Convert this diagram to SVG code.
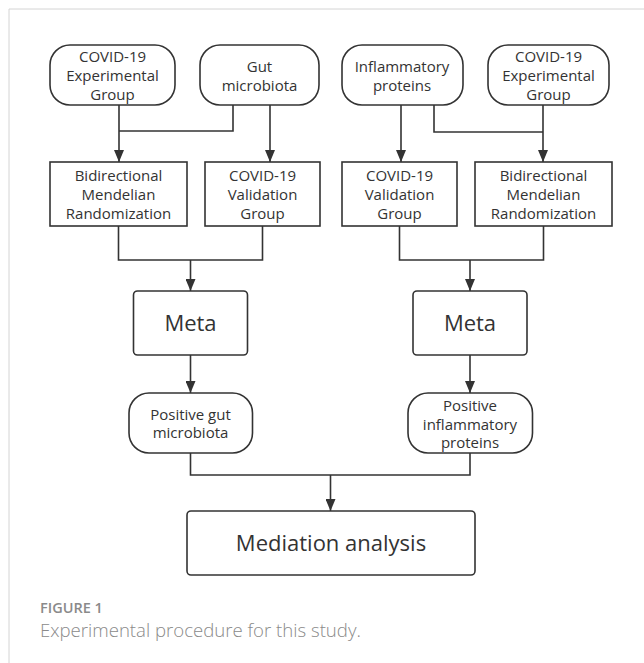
<svg xmlns="http://www.w3.org/2000/svg" width="644" height="663" viewBox="0 0 644 663">
<style>
.nd{fill:#fff;stroke:#333;stroke-width:1.6}
.t{font-family:"Open Sans","Noto Sans",sans-serif;font-size:15px;fill:#333;text-anchor:middle}
.tb{font-family:"Open Sans","Noto Sans",sans-serif;font-size:22px;fill:#333;text-anchor:middle}
.ln{fill:none;stroke:#333;stroke-width:1.6}
.ar{fill:none;stroke:#333;stroke-width:1.6;marker-end:url(#ah)}
</style>
<defs>
<marker id="ah" markerUnits="userSpaceOnUse" markerWidth="12" markerHeight="10" refX="12" refY="5" orient="auto">
<path d="M0,0 L12,5 L0,10 z" fill="#333"/>
</marker>
</defs>
<rect width="644" height="663" fill="#fff"/>
<path d="M9,663 V9 H644" fill="none" stroke="#d4d4d4" stroke-width="1"/>

<g id="connectors">
<path class="ar" d="M119,105 V162"/>
<path class="ln" d="M233,105 V131 H119"/>
<path class="ar" d="M270,105 V162"/>
<path class="ar" d="M401,105 V162"/>
<path class="ln" d="M434,105 V132 H543"/>
<path class="ar" d="M543,105 V162"/>
<path class="ln" d="M118.5,226 V260 H262.5 V226"/>
<path class="ar" d="M190.5,260 V291"/>
<path class="ln" d="M399.5,226 V260 H543.5 V226"/>
<path class="ar" d="M470,260 V291"/>
<path class="ar" d="M190.5,355 V393"/>
<path class="ar" d="M470,355 V393"/>
<path class="ln" d="M190.5,453 V475 H470 V453"/>
<path class="ar" d="M330.5,475 V511"/>
</g>

<g id="n1">
<rect class="nd" x="50" y="45" width="125" height="60" rx="20"/>
<text class="t" x="112.5" y="61.5">COVID-19</text>
<text class="t" x="112.5" y="80.5">Experimental</text>
<text class="t" x="112.5" y="99.5">Group</text>
</g>
<g id="n2">
<rect class="nd" x="200" y="45" width="119" height="60" rx="20"/>
<text class="t" x="259.5" y="71.5">Gut</text>
<text class="t" x="259.5" y="90.5">microbiota</text>
</g>
<g id="n3">
<rect class="nd" x="342" y="45" width="121" height="60" rx="20"/>
<text class="t" x="402" y="71.5">Inflammatory</text>
<text class="t" x="402" y="90.5">proteins</text>
</g>
<g id="n4">
<rect class="nd" x="488" y="45" width="121" height="60" rx="20"/>
<text class="t" x="548.5" y="61.5">COVID-19</text>
<text class="t" x="548.5" y="80.5">Experimental</text>
<text class="t" x="548.5" y="99.5">Group</text>
</g>

<g id="b1">
<rect class="nd" x="50" y="162" width="137" height="64"/>
<text class="t" x="118.5" y="181">Bidirectional</text>
<text class="t" x="118.5" y="200">Mendelian</text>
<text class="t" x="118.5" y="219">Randomization</text>
</g>
<g id="b2">
<rect class="nd" x="205" y="162" width="115" height="64"/>
<text class="t" x="262.5" y="181">COVID-19</text>
<text class="t" x="262.5" y="200">Validation</text>
<text class="t" x="262.5" y="219">Group</text>
</g>
<g id="b3">
<rect class="nd" x="342" y="162" width="115" height="64"/>
<text class="t" x="399.5" y="181">COVID-19</text>
<text class="t" x="399.5" y="200">Validation</text>
<text class="t" x="399.5" y="219">Group</text>
</g>
<g id="b4">
<rect class="nd" x="475" y="162" width="137" height="64"/>
<text class="t" x="543.5" y="181">Bidirectional</text>
<text class="t" x="543.5" y="200">Mendelian</text>
<text class="t" x="543.5" y="219">Randomization</text>
</g>

<g id="meta1">
<rect class="nd" x="133.5" y="291" width="114" height="64" rx="4"/>
<text class="tb" x="190.5" y="331">Meta</text>
</g>
<g id="meta2">
<rect class="nd" x="413" y="291" width="114" height="64" rx="4"/>
<text class="tb" x="470" y="331">Meta</text>
</g>

<g id="p1">
<rect class="nd" x="129" y="393" width="123.5" height="60" rx="20"/>
<text class="t" x="190.5" y="419.5">Positive gut</text>
<text class="t" x="190.5" y="438">microbiota</text>
</g>
<g id="p2">
<rect class="nd" x="408" y="393" width="124.5" height="60" rx="20"/>
<text class="t" x="470" y="411">Positive</text>
<text class="t" x="470" y="429.5">inflammatory</text>
<text class="t" x="470" y="448">proteins</text>
</g>

<g id="med">
<rect class="nd" x="187" y="511" width="288" height="64" rx="4"/>
<text class="tb" x="331" y="551">Mediation analysis</text>
</g>

<text x="40" y="612.5" font-family="'Open Sans','Noto Sans',sans-serif" font-size="14.5" font-weight="600" fill="#8a8a8a">FIGURE 1</text>
<text x="40" y="637" font-family="'Open Sans','Noto Sans',sans-serif" font-size="18.6" font-weight="300" fill="#8a8a8a">Experimental procedure for this study.</text>
</svg>
